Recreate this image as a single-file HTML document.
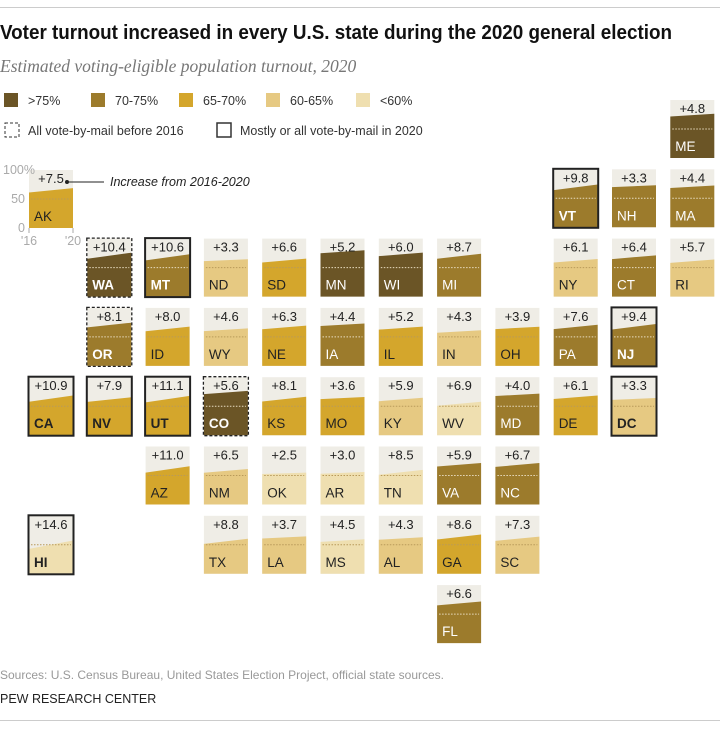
<!DOCTYPE html>
<html><head><meta charset="utf-8"><style>
body{margin:0;background:#fff;}
svg{display:block;font-family:"Liberation Sans",sans-serif;}
</style></head><body>
<svg id="chart" width="720" height="729" viewBox="0 0 720 729">
<line x1="0" y1="7.5" x2="720" y2="7.5" stroke="#ccc"/>
<text x="0" y="39" font-size="20" font-weight="bold" fill="#111" textLength="672" lengthAdjust="spacingAndGlyphs">Voter turnout increased in every U.S. state during the 2020 general election</text>
<text x="0" y="72" font-size="17.5" font-style="italic" font-family="Liberation Serif,serif" fill="#777">Estimated voting-eligible population turnout, 2020</text>
<g id="legend"></g>
<g id="sample"></g>
<g id="tiles"></g>
<text x="0" y="679" font-size="12" fill="#999">Sources: U.S. Census Bureau, United States Election Project, official state sources.</text>
<text x="0" y="703" font-size="12.5" fill="#222">PEW RESEARCH CENTER</text>
<line x1="0" y1="720.5" x2="720" y2="720.5" stroke="#ccc"/>
</svg>
<script>
const states=["AK","ME","VT","NH","MA","WA","MT","ND","SD","MN","WI","MI","NY","CT","RI","OR","ID","WY","NE","IA","IL","IN","OH","PA","NJ","CA","NV","UT","CO","KS","MO","KY","WV","MD","DE","DC","AZ","NM","OK","AR","TN","VA","NC","HI","TX","LA","MS","AL","GA","SC","FL"];
const cols=[0,11,9,10,11,1,2,3,4,5,6,7,9,10,11,1,2,3,4,5,6,7,8,9,10,0,1,2,3,4,5,6,7,8,9,10,2,3,4,5,6,7,8,0,3,4,5,6,7,8,7];
const rows=[1,0,1,1,1,2,2,2,2,2,2,2,2,2,2,3,3,3,3,3,3,3,3,3,3,4,4,4,4,4,4,4,4,4,4,4,5,5,5,5,5,5,5,6,6,6,6,6,6,6,7];
const turnout2020=[68.8,76.3,73.8,72.5,72.1,75.7,73.1,64.5,65.5,79.9,75.8,73.9,64.9,71.1,63.9,74.5,67.7,64.6,69.5,73.2,67.8,61.4,67.4,70.9,72.2,68.5,65.4,67.7,76.4,66.3,65.9,64.5,57.6,71.6,68.5,64.1,65.9,61.3,55.0,56.1,59.8,71.5,71.5,57.5,60.4,64.6,59.5,63.1,67.7,64.1,71.7];
const increase=[7.5,4.8,9.8,3.3,4.4,10.4,10.6,3.3,6.6,5.2,6.0,8.7,6.1,6.4,5.7,8.1,8.0,4.6,6.3,4.4,5.2,4.3,3.9,7.6,9.4,10.9,7.9,11.1,5.6,8.1,3.6,5.9,6.9,4.0,6.1,3.3,11.0,6.5,2.5,3.0,8.5,5.9,6.7,14.6,8.8,3.7,4.5,4.3,8.6,7.3,6.6];
const solidBox=["VT","MT","NJ","CA","NV","UT","DC","HI"];
const dashBox=["WA","OR","CO"];
const legendLabels=[">75%","70-75%","65-70%","60-65%","<60%"];
const palette=["#6b5526","#9c7b2c","#d4a62c","#e6c982","#efdfb0"];
const NS="http://www.w3.org/2000/svg";
function mk(t,a,p){const e=document.createElementNS(NS,t);for(const k in a)e.setAttribute(k,a[k]);p.appendChild(e);return e;}
function cat(v){return v>75?0:v>70?1:v>65?2:v>60?3:4;}
const TW=44,TH=58;
function colX(c){return 29+58.3*c;}
function rowY(r){return 100+69.3*r;}
function yS(v,top){return top+TH*(1-v/100);}
function drawTile(g,x,y,v20,inc,name,label){
  const v16=v20-inc;
  const bg=mk('rect',{x:x,y:y,width:TW,height:TH,fill:'#efede6'},g);
  
  
  const ci=cat(v20);
  const poly=mk('polygon',{points:`${x},${y+TH} ${x},${yS(v16,y)} ${x+TW},${yS(v20,y)} ${x+TW},${y+TH}`,fill:palette[ci]},g);
  
  
  const dl=mk('line',{x1:x+2,x2:x+TW-2,y1:yS(50,y),y2:yS(50,y),stroke:ci<2?'#e8dcc0':'#b89a5a','stroke-dasharray':'1.5 1.5','stroke-width':1},g);
  
  
  const boxed=solidBox.includes(name)||dashBox.includes(name);
  if(boxed){
    const b=mk('rect',{x:x-0.5,y:y-0.5,width:TW+1,height:TH+1,fill:'none',stroke:'#222','stroke-width':solidBox.includes(name)?2:1.3},g);
    if(dashBox.includes(name))b.setAttribute('stroke-dasharray','3 2');
    
    
  }
  const it=mk('text',{x:x+TW/2,y:y+13,'font-size':13,'text-anchor':'middle',fill:'#222'},g);
  it.textContent='+'+inc.toFixed(1);
  
  
  const st=mk('text',{x:x+5,y:y+TH-7,'font-size':13.5,fill:ci<2?'#fff':'#222','font-weight':boxed?'bold':'normal'},g);
  st.textContent=label;
  
  
}
const tg=document.getElementById('tiles');
states.forEach((s,i)=>{
  if(s==='AK')return;
  const g=mk('g',{},tg);
  
  
  drawTile(g,colX(cols[i]),rowY(rows[i]),turnout2020[i],increase[i],s,s);
});
const sg=document.getElementById('sample');
const ak=states.indexOf('AK');
const ax=29,ay=170;
drawTile(sg,ax,ay,turnout2020[ak],increase[ak],'AK','AK');
[["100%",0,3,'start'],["50",50,25,'end'],["0",100,25,'end']].forEach(([t,p,xx,an])=>{
  const tx=mk('text',{x:xx,y:ay+TH*p/100+4,'font-size':12.5,fill:'#aaa','text-anchor':an},sg);
  tx.textContent=t;
  
  
});
[["'16",ax],["'20",ax+TW]].forEach(([t,xx])=>{
  const tk=mk('line',{x1:xx,x2:xx,y1:ay+TH,y2:ay+TH+5,stroke:'#aaa'},sg);
  
  
  const tx=mk('text',{x:xx,y:ay+TH+17,'font-size':12.5,fill:'#aaa','text-anchor':'middle'},sg);
  tx.textContent=t;
  
  
});
const dot=mk('circle',{cx:67,cy:182,r:2,fill:'#222'},sg);


const al=mk('line',{x1:67,x2:104,y1:182,y2:182,stroke:'#222'},sg);


const at=mk('text',{x:110,y:186,'font-size':12.5,'font-style':'italic',fill:'#222'},sg);
at.textContent='Increase from 2016-2020';


const lg=document.getElementById('legend');
const lx=[4,91,179,266,356];
legendLabels.forEach((l,i)=>{
  const r=mk('rect',{x:lx[i],y:93,width:14,height:14,fill:palette[i]},lg);
  
  
  const t=mk('text',{x:lx[i]+24,y:105,'font-size':12.5,fill:'#333'},lg);
  t.textContent=l;
  
  
});
const b1=mk('rect',{x:5,y:123,width:14,height:14,fill:'none',stroke:'#333','stroke-dasharray':'3 2'},lg);


const t1=mk('text',{x:28,y:135,'font-size':12.5,fill:'#333'},lg);
t1.textContent='All vote-by-mail before 2016';


const b2=mk('rect',{x:217,y:123,width:14,height:14,fill:'none',stroke:'#333','stroke-width':1.5},lg);


const t2=mk('text',{x:240,y:135,'font-size':12.5,fill:'#333'},lg);
t2.textContent='Mostly or all vote-by-mail in 2020';


</script>
</body></html>
